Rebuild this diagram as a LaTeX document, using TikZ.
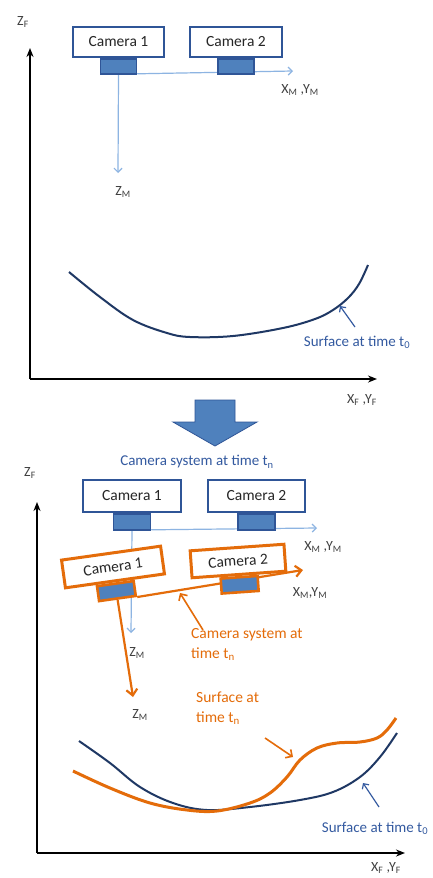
\documentclass[tikz,border=0pt]{standalone}
\usepackage{fontspec}
\setmainfont{Carlito}
\usetikzlibrary{arrows.meta,calc}
\pgfdeclarelayer{bg}
\pgfdeclarelayer{paper}
\pgfsetlayers{paper,bg,main}
\definecolor{boxblue}{RGB}{47,85,151}
\definecolor{lensfill}{RGB}{79,129,189}
\definecolor{lightax}{RGB}{141,180,226}
\definecolor{navy}{RGB}{31,56,100}
\definecolor{orng}{RGB}{228,108,10}
\definecolor{txtgray}{RGB}{64,64,64}
\definecolor{txtblue}{RGB}{52,90,160}
\begin{document}
\begin{tikzpicture}[x=1pt,y=-1pt,
  cambox/.style={draw=boxblue, line width=2.6pt, fill=white, minimum width=91pt, minimum height=30pt, inner sep=0pt, font=\fontsize{15.5}{18}\selectfont, text=black!85},
  lensbox/.style={draw=boxblue, line width=1.5pt, fill=lensfill, minimum width=36pt, minimum height=15pt, inner sep=0pt, anchor=north},
  ocambox/.style={draw=orng, line width=3pt, fill=white, minimum width=100pt, minimum height=28pt, inner sep=0pt, font=\fontsize{15.5}{18}\selectfont, text=black!85},
  olensbox/.style={draw=orng, line width=2.6pt, fill=lensfill, minimum width=37pt, minimum height=15pt, inner sep=0pt, anchor=north},
  axlabel/.style={font=\fontsize{14}{16}\selectfont, text=txtgray, inner sep=0pt},
  bluelabel/.style={font=\fontsize{15}{18}\selectfont, text=txtblue, inner sep=0pt},
  orlabel/.style={font=\fontsize{15.5}{20}\selectfont, text=orng, inner sep=0pt, align=left},
  mainax/.style={line width=1.6pt, -{Stealth[length=9pt,width=7pt]}},
  thinax/.style={draw=lightax, line width=1.2pt, -{Straight Barb[length=4pt,width=8pt]}},
  orax/.style={draw=orng, line width=2.2pt, -{Straight Barb[length=6pt,width=11pt]}},
  surfnavy/.style={draw=navy, line width=2pt},
  surforange/.style={draw=orng, line width=3pt},
  pointer/.style={draw=txtblue, line width=1.2pt, -{Straight Barb[length=4pt,width=8pt]}},
  opointer/.style={draw=orng, line width=1.6pt, -{Straight Barb[length=5pt,width=10pt]}}
]
\useasboundingbox (0,0) rectangle (432,878);
\begin{pgfonlayer}{paper}
\fill[white] (0,0) rectangle (432,878);
\end{pgfonlayer}

% ---------- top panel ----------
\coordinate (o1) at (30,379);
\coordinate (zf1) at (30,48);
\coordinate (xf1) at (377,379);
\draw[mainax] (o1) -- (zf1);
\draw[mainax] (o1) -- (xf1);
\node[axlabel] (lzf1) at (23,22) {Z\textsubscript{F}};
\node[axlabel] (lxf1) at (362,400) {X\textsubscript{F} ,Y\textsubscript{F}};

\node[cambox] (cam1) at (118.5,42) {Camera 1};
\node[cambox, minimum width=92pt] (cam2) at (236,42) {Camera 2};
\node[lensbox] (lens1) at (cam1.south) {};
\node[lensbox] (lens2) at (cam2.south) {};
\coordinate (xm1) at (293,71);
\coordinate (zm1) at (118,173);
\begin{pgfonlayer}{bg}
\draw[thinax] (lens1.south east) ++(0,-1) -- (xm1);
\draw[thinax] (lens1.south) -- (zm1);
\end{pgfonlayer}
\node[axlabel] (lxm1) at (300,90) {X\textsubscript{M} ,Y\textsubscript{M}};
\node[axlabel] (lzm1) at (123,192) {Z\textsubscript{M}};

\draw[surfnavy] plot[smooth, tension=0.6] coordinates {(69,272) (100,297) (133,320) (167,333) (190,337) (233,336) (283,328) (315,319) (333,310) (348,298) (359,284) (368,265)};
\coordinate (s0tip) at (340,306);
\coordinate (s0tail) at (355,327);
\draw[pointer] (s0tail) -- (s0tip);
\node[bluelabel] (ls0) at (357,342) {Surface at time t\textsubscript{0}};

% ---------- big arrow ----------
\draw[draw=boxblue, line width=0.8pt, fill=lensfill] (195,400) -- (235,400) -- (235,422) -- (257,422) -- (215,446) -- (173,422) -- (195,422) -- cycle;

% ---------- bottom panel ----------
\coordinate (o2) at (37,853);
\coordinate (zf2) at (37,502);
\coordinate (xf2) at (405,853);
\draw[mainax] (o2) -- (zf2);
\draw[mainax] (o2) -- (xf2);
\node[axlabel] (lzf2) at (30,473) {Z\textsubscript{F}};
\node[axlabel] (lxf2) at (386,868) {X\textsubscript{F} ,Y\textsubscript{F}};

\node[bluelabel] (lsys) at (197,462) {Camera system at time t\textsubscript{n}};

\node[cambox, minimum width=98pt, minimum height=32pt] (bcam1) at (132,496) {Camera 1};
\node[cambox, minimum width=97pt, minimum height=32pt] (bcam2) at (256.5,496) {Camera 2};
\node[lensbox, minimum width=37pt, minimum height=16pt] (blens1) at (bcam1.south) {};
\node[lensbox, minimum width=37pt, minimum height=16pt] (blens2) at (bcam2.south) {};
\coordinate (xm2) at (317,528);
\coordinate (zm2) at (131,633);
\begin{pgfonlayer}{bg}
\draw[thinax] (blens1.south east) ++(0,-1) -- (xm2);
\draw[thinax] (blens1.south) -- (zm2);
\end{pgfonlayer}
\node[axlabel] (lxm2) at (323,547) {X\textsubscript{M} ,Y\textsubscript{M}};
\node[axlabel] (lzm2) at (137,653) {Z\textsubscript{M}};

% orange (moved) camera system
\node[ocambox, rotate=8] (ocam1) at (113,567) {Camera 1};
\node[ocambox, rotate=4, minimum width=94pt, minimum height=27pt] (ocam2) at (238,561) {Camera 2};
\node[olensbox, rotate=8] (olens1) at (ocam1.south) {};
\node[olensbox, rotate=4] (olens2) at (ocam2.south) {};
\coordinate (oxm) at (303,570);
\coordinate (ozm) at (133,697);
\begin{pgfonlayer}{bg}
\draw[orax] (olens1.south east) -- (oxm);
\draw[orax] (olens1.south) -- (ozm);
\end{pgfonlayer}
\node[axlabel] (loxm) at (310,593) {X\textsubscript{M},Y\textsubscript{M}};
\node[axlabel] (lozm) at (140,715) {Z\textsubscript{M}};

\node[orlabel, anchor=north west] (losys) at (191,628) {Camera system at\\time t\textsubscript{n}};
\coordinate (osystail) at (203,630);
\coordinate (osystip) at (180,593);
\draw[opointer] (osystail) -- (osystip);

% surfaces
\draw[surfnavy] plot[smooth, tension=0.6] coordinates {(79,741) (110,763) (140,787) (173,803) (207,810) (250,807) (300,800) (333,792) (360,777) (380,757) (397,733)};
\draw[surforange] plot[smooth, tension=0.6] coordinates {(73,771) (110,788) (150,803) (187,810) (217,811) (250,803) (270,793) (287,777) (300,760) (317,748) (337,743) (360,742) (377,738) (387,730) (396,718)};

\node[orlabel, anchor=north west] (losurf) at (196,692) {Surface at\\time t\textsubscript{n}};
\coordinate (osurftail) at (265,738);
\coordinate (osurftip) at (293,757);
\draw[opointer] (osurftail) -- (osurftip);

\coordinate (bs0tail) at (379,807);
\coordinate (bs0tip) at (363,783);
\draw[pointer] (bs0tail) -- (bs0tip);
\node[bluelabel] (lbs0) at (375,828) {Surface at time t\textsubscript{0}};
\end{tikzpicture}
\end{document}
